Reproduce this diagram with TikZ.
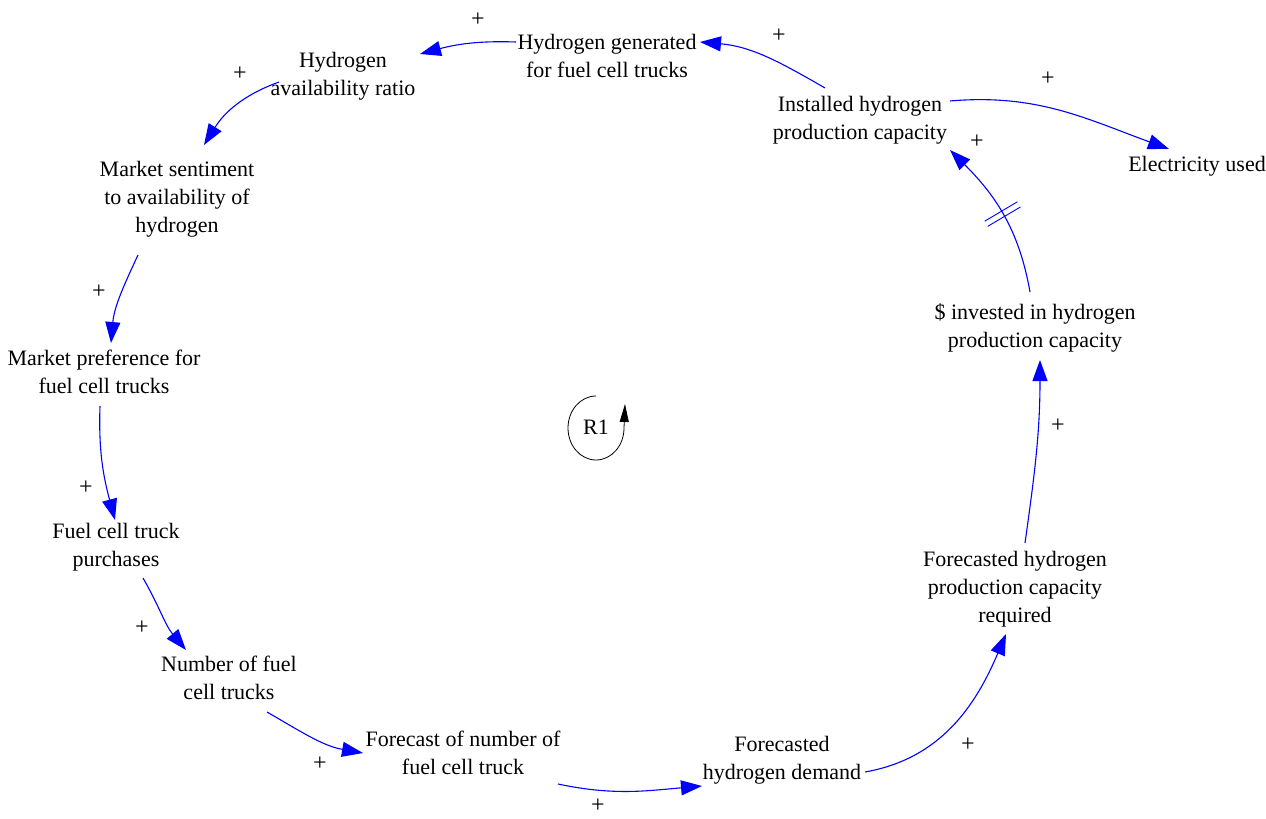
\documentclass[tikz,border=0pt]{standalone}
\usepackage{fontspec}
\setmainfont{Liberation Serif}
\usetikzlibrary{arrows.meta,calc,decorations.markings}
\definecolor{linkblue}{RGB}{0,0,255}
\begin{document}
\begin{tikzpicture}[x=1pt,y=1pt,
  var/.style={align=center, inner sep=0pt, font=\fontsize{22}{28}\selectfont},
  lnk/.style={draw=linkblue, line width=1.1pt, -{Triangle[length=21pt,width=15pt,fill=linkblue]}},
  pol/.style={font=\fontsize{24}{26}\selectfont, inner sep=0pt},
  delaymark/.style={postaction={decorate}, decoration={markings, mark=at position #1 with {
      \draw[linkblue, line width=0.9pt, arrows=-] (-3,-19) -- (-3,19);
      \draw[linkblue, line width=0.9pt, arrows=-] (3,-19) -- (3,19);}}},
  ]
\useasboundingbox (0,0) rectangle (1266,-819);

% variables
\node[var] (hg)   at (607,-56)  {Hydrogen generated\\for fuel cell trucks};
\node[var] (har)  at (343,-76)  {Hydrogen\\availability ratio};
\node[var] (ms)   at (177,-199) {Market sentiment\\to availability of\\hydrogen};
\node[var] (mp)   at (104,-372) {Market preference for\\fuel cell trucks};
\node[var] (fp)   at (116,-547) {Fuel cell truck\\purchases};
\node[var] (nf)   at (229,-678) {Number of fuel\\cell trucks};
\node[var] (fn)   at (463,-753) {Forecast of number of\\fuel cell truck};
\node[var] (hd)   at (782,-760) {Forecasted\\hydrogen demand};
\node[var] (req)  at (1015,-589) {Forecasted hydrogen\\production capacity\\required};
\node[var] (inv)  at (1035,-328) {\$ invested in hydrogen\\production capacity};
\node[var] (inst) at (860,-120) {Installed hydrogen\\production capacity};
\node[var] (elec) at (1197,-166) {Electricity used};

% links
\draw[lnk] ($(hg)+(-91,14)$)   to[out=178,in=15]  ($(har)+(77,22)$);
\draw[lnk] ($(inst)+(-35,32)$) to[out=150,in=-5]  ($(hg)+(93,14)$);
\draw[lnk] ($(inst)+(90,19)$)  to[out=5,in=160]   ($(elec)+(-28,17)$);
\draw[lnk, delaymark=0.5] ($(inv)+(-5,36)$) to[out=100,in=-45] ($(inst)+(90,-30)$);
\draw[lnk] ($(req)+(10,46)$)   to[out=82,in=-90]  ($(inv)+(5,-32)$);
\draw[lnk] ($(hd)+(83,-12)$)   to[out=10,in=-113] ($(req)+(-9,-45)$);
\draw[lnk] ($(fn)+(95,-31)$)   to[out=-12,in=185] ($(hd)+(-80,-26)$);
\draw[lnk] ($(nf)+(38,-34)$)   to[out=-30,in=170] ($(fn)+(-100,0)$);
\draw[lnk] ($(fp)+(27,-31)$)   to[out=-60,in=130] ($(nf)+(-43,28)$);
\draw[lnk] ($(mp)+(-4,-34)$)   to[out=-92,in=105] ($(fp)+(-1,27)$);
\draw[lnk] ($(ms)+(-39,-56)$)  to[out=-115,in=85] ($(mp)+(7,29)$);
\draw[lnk] ($(har)+(-64,-6)$)  to[out=200,in=58]  ($(ms)+(27,54)$);

% polarities
\node[pol] (p1)  at (478,-20)  {+};
\node[pol] (p2)  at (779,-36)  {+};
\node[pol] (p3)  at (1048,-79) {+};
\node[pol] (p4)  at (977,-142) {+};
\node[pol] (p5)  at (1058,-426) {+};
\node[pol] (p6)  at (968,-745) {+};
\node[pol] (p7)  at (598,-806) {+};
\node[pol] (p8)  at (320,-764) {+};
\node[pol] (p9)  at (142,-628) {+};
\node[pol] (p10) at (86,-488)  {+};
\node[pol] (p11) at (99,-292)  {+};
\node[pol] (p12) at (240,-74)  {+};

% loop marker
\node[var] (r1) at (596,-427) {R1};
\coordinate (r1start) at (596,-396);
\draw[black, line width=0.8pt, -{Triangle[length=18pt,width=9pt]}]
  (r1start) arc[start angle=90, end angle=360, x radius=28, y radius=32] -- ++(1,24);
\end{tikzpicture}
\end{document}
